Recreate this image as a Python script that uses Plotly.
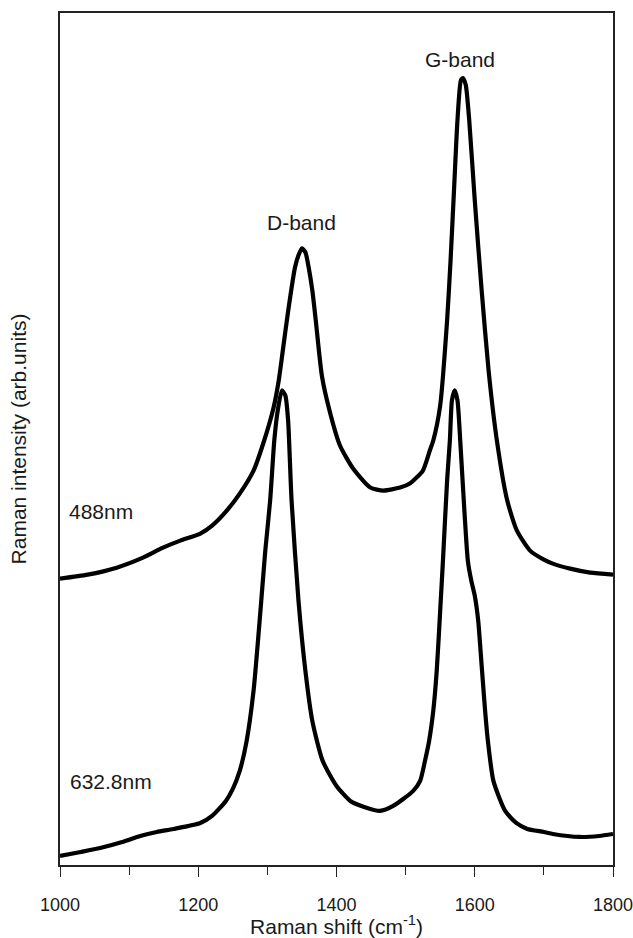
import plotly.graph_objects as go

# Raman shift (cm^-1) and intensity (arb. units)
shift_488 = [1000, 1040, 1082, 1120, 1149, 1174, 1203, 1220, 1240, 1260, 1280, 1294, 1309, 1316,
             1322, 1330, 1340, 1345, 1350, 1355, 1360, 1365, 1370, 1379, 1391, 1405, 1424, 1449,
             1468, 1492, 1506, 1525, 1535, 1540, 1550, 1560, 1565, 1570, 1575, 1580, 1583, 1587,
             1592, 1600, 1610, 1620, 1632, 1647, 1661, 1680, 1700, 1713, 1738, 1767, 1800]
int_488 = [286, 290, 297, 307, 317, 324, 331, 339, 353, 371, 394, 421, 457, 482,
           512, 553, 597, 609, 616, 612, 596, 574, 544, 488, 451, 419, 396, 377,
           374, 377, 381, 394, 414, 424, 459, 544, 604, 674, 744, 784, 786, 779,
           744, 664, 574, 494, 424, 364, 334, 314, 305, 301, 296, 292, 290]

shift_633 = [1000, 1030, 1058, 1090, 1116, 1140, 1164, 1203, 1220, 1240, 1250, 1260, 1270, 1280,
             1290, 1297, 1304, 1310, 1315, 1321, 1326, 1330, 1335, 1345, 1355, 1365, 1380, 1400,
             1420, 1440, 1463, 1482, 1511, 1521, 1528, 1534, 1540, 1545, 1550, 1554, 1560, 1564,
             1567, 1571, 1575, 1579, 1585, 1590, 1595, 1600, 1605, 1610, 1615, 1619, 1627, 1644,
             1660, 1676, 1700, 1713, 1752, 1780, 1800]
int_633 = [9, 13, 17, 23, 29, 33, 36, 42, 49, 64, 76, 94, 124, 174,
           254, 314, 364, 424, 454, 474, 469, 444, 364, 264, 194, 144, 104, 79,
           64, 58, 54, 59, 74, 84, 104, 124, 154, 194, 254, 304, 384, 424,
           464, 474, 464, 424, 354, 304, 284, 269, 244, 199, 154, 124, 84, 54,
           42, 36, 33, 31, 28, 29, 31]

x_ticks = [1000, 1200, 1400, 1600, 1800]

FONT = "Liberation Sans, Arial, sans-serif"
TXT = "#1a1a1a"

fig = go.Figure()
for xs, ys in ((shift_488, int_488), (shift_633, int_633)):
    fig.add_trace(go.Scatter(x=xs, y=ys, mode="lines",
                             line=dict(color="black", width=4.2, shape="spline", smoothing=0.6),
                             showlegend=False))

fig.add_annotation(x=1350, y=642, text="D-band", showarrow=False,
                   font=dict(size=21, color=TXT, family=FONT))
fig.add_annotation(x=1578, y=805, text="G-band", showarrow=False,
                   font=dict(size=21, color=TXT, family=FONT))
fig.add_annotation(x=1010, y=353, text="488nm", showarrow=False, xanchor="left",
                   font=dict(size=21, color=TXT, family=FONT))
fig.add_annotation(x=1011, y=83, text="632.8nm", showarrow=False, xanchor="left",
                   font=dict(size=21, color=TXT, family=FONT))

fig.update_layout(
    width=633, height=938,
    margin=dict(l=60, r=20, t=13, b=73),
    plot_bgcolor="white", paper_bgcolor="white",
    font=dict(family=FONT, size=18, color=TXT),
    xaxis=dict(range=[1000, 1800], tickvals=x_ticks, ticktext=[str(v) for v in x_ticks],
               ticks="outside", ticklen=10, tickwidth=1.3, tickcolor="#222",
               ticklabelstandoff=13, ticklabeloverflow="allow", automargin=False,
               minor=dict(dtick=100, ticks="outside", ticklen=8, tickwidth=1.3, tickcolor="#222"),
               showline=True, linecolor="#222", linewidth=1.5, mirror=True,
               showgrid=False, zeroline=False,
               tickfont=dict(size=18),
               title=dict(text="Raman shift (cm<sup>-1</sup>)", font=dict(size=21), standoff=8)),
    yaxis=dict(range=[0, 851], showticklabels=False, ticks="", automargin=False,
               showline=True, linecolor="#222", linewidth=1.5, mirror=True,
               showgrid=False, zeroline=False,
               title=dict(text="Raman intensity (arb.units)", font=dict(size=21), standoff=26)),
)

fig.write_html("out.html", config={"displayModeBar": False},
               post_script="document.body.style.margin='0';document.body.style.overflow='hidden';")
